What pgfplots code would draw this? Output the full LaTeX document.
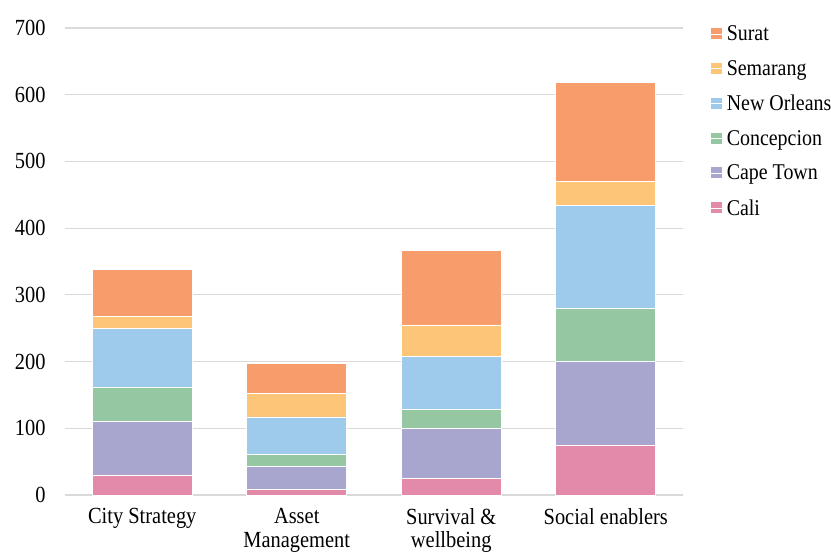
\documentclass[border=0pt]{standalone}
\usepackage{pgfplots}
\pgfplotsset{compat=1.18}
\usepackage{fontspec}
\setmainfont{Liberation Serif}

\definecolor{surat}{HTML}{F79D6B}
\definecolor{semarang}{HTML}{FCC577}
\definecolor{neworleans}{HTML}{9ECBEC}
\definecolor{concepcion}{HTML}{95C7A2}
\definecolor{capetown}{HTML}{A8A5CF}
\definecolor{cali}{HTML}{E389A9}
\definecolor{gridgray}{HTML}{D9D9D9}

% text in the reference is slightly stretched vertically
\newcommand\vs[1]{\scalebox{1}[1.13]{#1}}

\begin{document}
\begin{tikzpicture}
  \path[use as bounding box] (-65bp,-60bp) rectangle (766bp,495bp);
  \begin{axis}[
      at={(0,0)}, anchor=south west,
      width=618bp, height=467bp,
      scale only axis,
      ybar stacked,
      bar width=100bp,
      xmin=-0.5, xmax=3.5,
      ymin=0, ymax=700,
      ytick distance=100,
      xtick=data,
      xticklabels={\vs{City Strategy}, \vs{Asset}\\\vs{Management}, \vs{Survival \&}\\\vs{wellbeing}, \vs{Social enablers}},
      xticklabel style={align=center, font=\fontsize{20.5}{23.5}\selectfont, yshift=-10bp},
      yticklabel={\vs{\pgfmathprintnumber{\tick}}},
      yticklabel style={font=\fontsize{20.5}{23.5}\selectfont, xshift=-16bp},
      /pgf/number format/assume math mode=true,
      major tick length=0pt,
      axis x line=bottom,
      axis y line=left,
      x axis line style={gridgray, line width=1.3bp, -},
      y axis line style={draw=none},
      ymajorgrids,
      major grid style={gridgray, line width=1.2bp},
      every axis plot/.append style={draw=white, line width=0.6bp},
      reverse legend,
      legend cell align=left,
      legend style={draw=none, fill=none, at={(1.0437,1.009)}, anchor=north west,
        font=\fontsize{20}{22}\selectfont, row sep=14.2bp, inner sep=0pt},
      legend image code/.code={\fill[#1, draw=none] (0bp,-5bp) rectangle (11bp,6bp);
        \path (0bp,0bp) -- (14bp,0bp);},
    ]
    \addplot[fill=cali] coordinates {(0,30) (1,8) (2,25) (3,75)};
    \addlegendentry{\vs{Cali}}
    \addplot[fill=capetown] coordinates {(0,80) (1,35) (2,75) (3,125)};
    \addlegendentry{\vs{Cape Town}}
    \addplot[fill=concepcion] coordinates {(0,52) (1,18) (2,28) (3,80)};
    \addlegendentry{\vs{Concepcion}}
    \addplot[fill=neworleans] coordinates {(0,88) (1,56) (2,80) (3,154)};
    \addlegendentry{\vs{New Orleans}}
    \addplot[fill=semarang] coordinates {(0,18) (1,35) (2,47) (3,36)};
    \addlegendentry{\vs{Semarang}}
    \addplot[fill=surat] coordinates {(0,70) (1,45) (2,112) (3,148)};
    \addlegendentry{\vs{Surat}}
  \end{axis}
\end{tikzpicture}
\end{document}
